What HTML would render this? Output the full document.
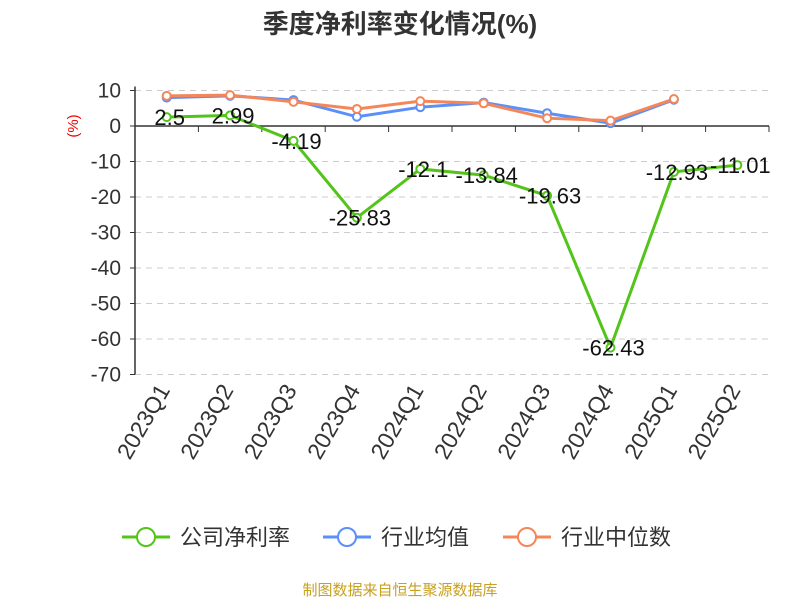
<!DOCTYPE html>
<html><head><meta charset="utf-8"><style>
body{margin:0;background:#fff;}
svg{display:block;font-family:"Liberation Sans","Noto Sans CJK SC",sans-serif;}
</style></head><body>
<svg id="c" width="800" height="600"></svg>
<script>
const categories=['2023Q1','2023Q2','2023Q3','2023Q4','2024Q1','2024Q2','2024Q3','2024Q4','2025Q1','2025Q2'];
const companyValues=[2.5,2.99,-4.19,-25.83,-12.1,-13.84,-19.63,-62.43,-12.93,-11.01];
const industryAvg=[8.0,8.5,7.3,2.6,5.3,6.6,3.6,0.8,7.4];
const industryMedian=[8.5,8.7,6.8,4.8,7.0,6.4,2.2,1.5,7.6];
const yTicks=[10,0,-10,-20,-30,-40,-50,-60,-70];
const NS='http://www.w3.org/2000/svg';
const svg=document.getElementById('c');
const x0=135,x1=769,bw=(x1-x0)/categories.length;
const X=i=>x0+bw*(i+0.5);
const Y=v=>126-v*3.55;
function mk(t,a,p){const e=document.createElementNS(NS,t);for(const k in a)e.setAttribute(k,a[k]);(p||svg).appendChild(e);return e;}
function txt(s,a){const e=mk('text',a);e.textContent=s;return e;}
let t=txt('季度净利率变化情况(%)',{x:400,y:33,'text-anchor':'middle','font-size':26,'font-weight':'bold',fill:'#333'});

t=txt('(%)',{x:78,y:126,'text-anchor':'middle','font-size':15,fill:'#e00',transform:'rotate(-90 78 126)'});

yTicks.forEach(v=>{
 if(v!==0){const g=mk('line',{x1:x0,x2:x1,y1:Y(v),y2:Y(v),stroke:'#ccc','stroke-dasharray':'6,5'});}
 const l=txt(String(v),{x:x0-14,y:Y(v)+7,'text-anchor':'end','font-size':21,fill:'#333'});
 
});
let ax=mk('line',{x1:x0,x2:x0,y1:Y(10)-4,y2:Y(-70),stroke:'#333','stroke-width':1.5});

yTicks.forEach(v=>mk('line',{x1:x0-5,x2:x0,y1:Y(v),y2:Y(v),stroke:'#333'}));
ax=mk('line',{x1:x0,x2:x1,y1:Y(0),y2:Y(0),stroke:'#333','stroke-width':1.5});

for(let i=0;i<=categories.length;i++)mk('line',{x1:x0+bw*i,x2:x0+bw*i,y1:Y(0),y2:Y(0)+6,stroke:'#333'});
categories.forEach((c,i)=>{
 const ax_=X(i)+4,ay=390;
 const l=txt(c,{x:ax_,y:ay,'text-anchor':'end','font-size':23,fill:'#333',transform:`rotate(-60 ${ax_} ${ay})`});
 
});
function series(vals,color,name){
 const p=mk('polyline',{points:vals.map((v,i)=>X(i)+','+Y(v)).join(' '),fill:'none',stroke:color,'stroke-width':3});
 
 vals.forEach((v,i)=>{const c=mk('circle',{cx:X(i),cy:Y(v),r:4,fill:'#fff',stroke:color,'stroke-width':2});
 });
}
series(industryAvg,'#5b8ff9','industry-average');
series(industryMedian,'#f4875a','industry-median');
series(companyValues,'#52c41a','company-net-margin');
companyValues.forEach((v,i)=>{
 const l=txt(String(v),{x:X(i)+3,y:Y(v)+8,'text-anchor':'middle','font-size':22,fill:'#111'});
 
});
const legend=[['公司净利率','#52c41a',122],['行业均值','#5b8ff9',323],['行业中位数','#f4875a',503]];
legend.forEach(([n,c,x])=>{
 const g=mk('g',{});
 mk('line',{x1:x,x2:x+48,y1:537,y2:537,stroke:c,'stroke-width':3},g);
 mk('circle',{cx:x+24,cy:537,r:9,fill:'#fff',stroke:c,'stroke-width':2},g);
 const tt=mk('text',{x:x+58,y:545,'font-size':22,fill:'#333'},g);tt.textContent=n;
});
t=txt('制图数据来自恒生聚源数据库',{x:400,y:595,'text-anchor':'middle','font-size':15,fill:'#c8a020'});

</script>
</body></html>
